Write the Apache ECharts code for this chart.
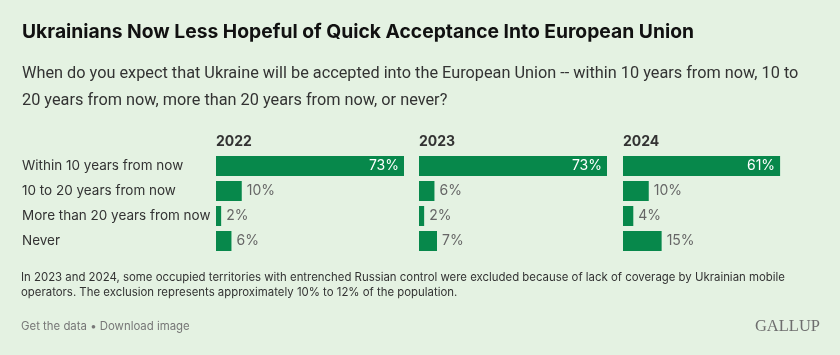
<!DOCTYPE html>
<html>
<head>
<meta charset="utf-8">
<script src="https://cdn.jsdelivr.net/npm/echarts@6/dist/echarts.min.js"></script>
<style>
html,body{margin:0;padding:0;background:#e4f2e2;}
#chart{width:840px;height:355px;}
</style>
</head>
<body>
<div id="chart"></div>
<script>
const categories = ["Within 10 years from now", "10 to 20 years from now", "More than 20 years from now", "Never"];
const years = ["2022", "2023", "2024"];
const values2022 = [73, 10, 2, 6];
const values2023 = [73, 6, 2, 7];
const values2024 = [61, 10, 4, 15];
const panelValues = [values2022, values2023, values2024];

const FONT = "Inter, 'Noto Sans', sans-serif";
const GREEN = "#07884b";
const panelLeft = [216, 419, 623];
const gridTop = 153.5, gridH = 100, gridW = 188, axisMax = 73;

const chart = echarts.init(document.getElementById('chart'), null, {renderer: 'canvas'});

const grids = [], xAxes = [], yAxes = [], series = [], titles = [];

titles.push({
  text: "Ukrainians Now Less Hopeful of Quick Acceptance Into European Union",
  left: 22, top: 23, padding: 0,
  textStyle: {fontFamily: FONT, fontSize: 19.3, fontWeight: 700, color: "#111"}
});
titles.push({
  text: "When do you expect that Ukraine will be accepted into the European Union -- within 10 years from now, 10 to\n20 years from now, more than 20 years from now, or never?",
  left: 22, top: 60, padding: 0,
  textStyle: {fontFamily: "Roboto, sans-serif", fontSize: 16.3, fontWeight: 400, color: "#333", lineHeight: 27}
});
titles.push({
  text: "In 2023 and 2024, some occupied territories with entrenched Russian control were excluded because of lack of coverage by Ukrainian mobile\noperators. The exclusion represents approximately 10% to 12% of the population.",
  left: 21, top: 270.5, padding: 0,
  textStyle: {fontFamily: FONT, fontSize: 11.4, fontWeight: 400, color: "#333", lineHeight: 15}
});
titles.push({
  text: "Get the data \u2022 Download image",
  left: 21, top: 321, padding: 0,
  textStyle: {fontFamily: FONT, fontSize: 11.4, fontWeight: 400, color: "#777"}
});
titles.push({
  text: "GALLUP",
  right: 20, top: 318, padding: 0,
  textStyle: {fontFamily: "'Liberation Serif', 'DejaVu Serif', serif", fontSize: 16.5, fontWeight: 400, color: "#6e6e6e"}
});

years.forEach((yr, i) => {
  titles.push({
    text: yr, left: panelLeft[i], top: 135, padding: 0,
    textStyle: {fontFamily: FONT, fontSize: 14, fontWeight: 700, color: "#333"}
  });
  grids.push({left: panelLeft[i], top: gridTop, width: gridW, height: gridH, containLabel: false});
  xAxes.push({
    type: 'value', gridIndex: i, min: 0, max: axisMax, show: false
  });
  yAxes.push({
    type: 'category', gridIndex: i, data: categories, inverse: true,
    axisLine: {show: false}, axisTick: {show: false}, splitLine: {show: false},
    axisLabel: i === 0 ? {
      show: true, align: 'left', margin: 194,
      fontFamily: FONT, fontSize: 13.5, color: "#333"
    } : {show: false}
  });
  series.push({
    type: 'bar', xAxisIndex: i, yAxisIndex: i,
    barWidth: 20,
    itemStyle: {color: GREEN},
    silent: true,
    data: panelValues[i].map((v, j) => ({
      value: v,
      label: j === 0 ? {
        show: true, position: 'insideRight', distance: 5, color: "#fff",
        formatter: '{c}%', fontFamily: FONT, fontSize: 14
      } : {
        show: true, position: 'right', distance: 5, color: "#666",
        formatter: '{c}%', fontFamily: FONT, fontSize: 14
      }
    }))
  });
});

chart.setOption({
  backgroundColor: "#e4f2e2",
  animation: false,
  title: titles,
  grid: grids,
  xAxis: xAxes,
  yAxis: yAxes,
  series: series
});
</script>
</body>
</html>
